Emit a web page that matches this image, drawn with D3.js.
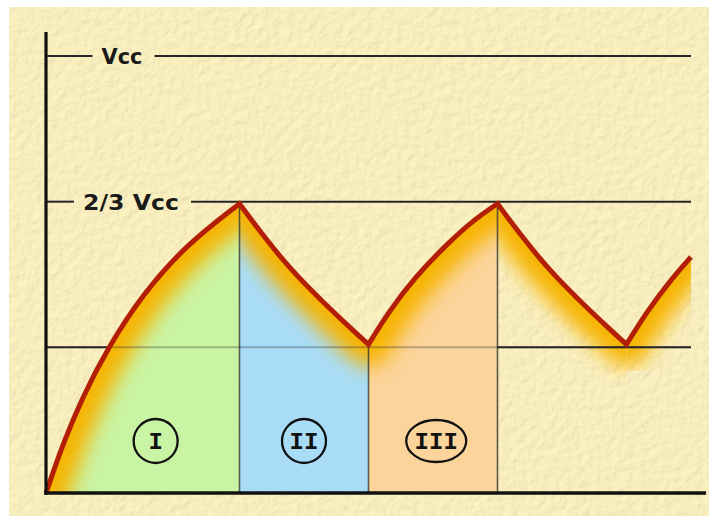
<!DOCTYPE html>
<html>
<head>
<meta charset="utf-8">
<script src="https://cdn.jsdelivr.net/npm/d3@7"></script>
<style>
  html, body { margin: 0; padding: 0; background: #ffffff; }
  svg { display: block; }
</style>
</head>
<body>
<svg id="chart" width="709" height="516"></svg>
<script>
// Capacitor voltage of a 555 astable timer.
// Time in arbitrary units, voltage as a fraction of Vcc.
const curveT = [0, 0.14, 0.26, 0.55, 0.97, 1.5, 2.18, 3.0,
                3.34, 3.76, 4.25, 4.76, 5.0,
                5.31, 5.72, 6.24, 6.65, 7.0,
                7.34, 7.76, 8.25, 8.76, 9.0,
                9.31, 9.72, 10.0];
const curveV = [0, 0.06, 0.11, 0.215, 0.335, 0.455, 0.569, 0.662,
                0.594, 0.517, 0.443, 0.372, 0.34,
                0.414, 0.494, 0.573, 0.627, 0.662,
                0.594, 0.517, 0.443, 0.372, 0.34,
                0.414, 0.494, 0.54];

// Charge / discharge phase boundaries (corners of the waveform)
const phaseBounds = [0, 3, 5, 7, 9, 10];
const phaseNames = ['I', 'II', 'III'];
const phaseColors = ['#c9f4a4', '#a9ddf7', '#fbd49c'];

// Threshold levels
const levelValues = [1, 2 / 3, 1 / 3];
const levelLabels = ['Vcc', '2/3 Vcc', ''];

const W = 709, H = 516;
const svg = d3.select('#chart');
const defs = svg.append('defs');

const x = d3.scaleLinear().domain([0, 10]).range([46, 691]);
const y = d3.scaleLinear().domain([0, 1]).range([493, 56]);

const points = curveT.map((t, i) => ({ t, v: curveV[i] }));

// ---- paper background ----
const paper = defs.append('filter').attr('id', 'paper')
  .attr('x', 0).attr('y', 0).attr('width', '100%').attr('height', '100%');
paper.append('feTurbulence').attr('type', 'fractalNoise')
  .attr('baseFrequency', 0.13).attr('numOctaves', 3).attr('seed', 7).attr('result', 'noise');
const light = paper.append('feDiffuseLighting').attr('in', 'noise')
  .attr('lighting-color', '#f9efbf').attr('surfaceScale', 0.8)
  .attr('diffuseConstant', 1.1).attr('result', 'lit');
light.append('feDistantLight').attr('azimuth', 225).attr('elevation', 64);

svg.append('rect').attr('x', 9).attr('y', 7).attr('width', W - 9).attr('height', H - 7)
  .attr('fill', '#f8edbc');
svg.append('rect').attr('x', 9).attr('y', 7).attr('width', W - 9).attr('height', H - 7)
  .attr('filter', 'url(#paper)').attr('opacity', 0.8);

// ---- glow filter ----
defs.append('filter').attr('id', 'glow')
  .attr('x', '-30%').attr('y', '-30%').attr('width', '160%').attr('height', '160%')
  .append('feGaussianBlur').attr('stdDeviation', 10);

// Split the waveform into its phases
const phases = d3.range(phaseBounds.length - 1).map(i => {
  const a = phaseBounds[i], b = phaseBounds[i + 1];
  return { a, b, pts: points.filter(p => p.t >= a - 1e-9 && p.t <= b + 1e-9) };
});

// Clamped B-spline: passes through each phase's end points, smooth in between
const curve = d3.curveBasis;
const line = d3.line().x(d => x(d.t)).y(d => y(d.v)).curve(curve);
const area = d3.area().x(d => x(d.t)).y0(y(0)).y1(d => y(d.v)).curve(curve);

// ---- phase fills with orange glow under the curve ----
const fills = svg.append('g');
phases.forEach((ph, i) => {
  const clipId = 'clip' + i;
  defs.append('clipPath').attr('id', clipId).append('path').attr('d', area(ph.pts));
  const g = fills.append('g').attr('clip-path', `url(#${clipId})`);
  if (i < phaseColors.length) {
    g.append('path').attr('d', area(ph.pts)).attr('fill', phaseColors[i]);
  }
  g.append('path').attr('d', line(ph.pts))
    .attr('fill', 'none').attr('stroke', '#f6b400')
    .attr('stroke-width', 44).attr('stroke-linecap', 'round')
    .attr('filter', 'url(#glow)');
});

// ---- phase dividers ----
const dividers = svg.append('g');
phaseBounds.slice(1, 4).forEach(t => {
  const p = points.find(q => Math.abs(q.t - t) < 1e-9);
  dividers.append('line')
    .attr('x1', x(t)).attr('x2', x(t))
    .attr('y1', y(p.v)).attr('y2', y(0))
    .attr('stroke', '#2a2a2a').attr('stroke-opacity', 0.75).attr('stroke-width', 1.6);
});

// ---- threshold levels ----
const levels = svg.append('g');
const labelCx = [122, 131];
const labelW = [41, 96];
levelValues.forEach((v, i) => {
  const yy = y(v);
  if (levelLabels[i]) {
    levels.append('text')
      .attr('x', labelCx[i]).attr('y', yy + 8)
      .attr('text-anchor', 'middle')
      .attr('font-family', '"DejaVu Sans", Verdana, sans-serif')
      .attr('font-weight', 'bold').attr('font-size', 22)
      .attr('textLength', labelW[i]).attr('lengthAdjust', 'spacingAndGlyphs')
      .attr('fill', '#1a1a1a')
      .text(levelLabels[i]);
    const w = labelW[i];
    levels.append('line').attr('x1', x(0)).attr('x2', labelCx[i] - w / 2 - 9)
      .attr('y1', yy).attr('y2', yy).attr('stroke', '#262626').attr('stroke-width', 2);
    levels.append('line').attr('x1', labelCx[i] + w / 2 + 12).attr('x2', x(10))
      .attr('y1', yy).attr('y2', yy).attr('stroke', '#262626').attr('stroke-width', 2);
  } else {
    // Lower threshold: solid over the paper, faint where it crosses the fills
    levels.append('line').attr('x1', x(0)).attr('x2', x(10))
      .attr('y1', yy).attr('y2', yy)
      .attr('stroke', '#262626').attr('stroke-opacity', 0.3).attr('stroke-width', 2);
    const paperOnly = defs.append('clipPath').attr('id', 'abovePaper');
    paperOnly.append('rect').attr('x', x(0)).attr('y', 0)
      .attr('width', x(0.97) - x(0)).attr('height', H);
    paperOnly.append('rect').attr('x', x(7)).attr('y', 0)
      .attr('width', x(10) - x(7)).attr('height', H);
    levels.append('line').attr('x1', x(0)).attr('x2', x(10))
      .attr('y1', yy).attr('y2', yy)
      .attr('clip-path', 'url(#abovePaper)')
      .attr('stroke', '#262626').attr('stroke-width', 2);
  }
});

// ---- waveform: phases joined into one path so the corners are mitred ----
const wavePath = phases.map((ph, i) => {
  const d = line(ph.pts);
  return i === 0 ? d : 'L' + d.slice(1);
}).join('');
svg.append('path')
  .attr('d', wavePath)
  .attr('fill', 'none').attr('stroke', '#b21e06').attr('stroke-width', 5)
  .attr('stroke-linejoin', 'miter').attr('stroke-miterlimit', 10);

// ---- axes ----
svg.append('line').attr('x1', x(0)).attr('x2', x(0))
  .attr('y1', 32).attr('y2', y(0) + 2)
  .attr('stroke', '#111').attr('stroke-width', 3.2);
svg.append('line').attr('x1', x(0) - 1.5).attr('x2', 706)
  .attr('y1', y(0)).attr('y2', y(0))
  .attr('stroke', '#111').attr('stroke-width', 3.6);

// ---- phase labels ----
const labelT = [1.7, 4.0, 6.05];
const labelV = 0.119;
const tags = svg.append('g');
phaseNames.forEach((name, i) => {
  const cx = x(labelT[i]), cy = y(labelV);
  tags.append('ellipse').attr('cx', cx).attr('cy', cy)
    .attr('rx', name.length > 2 ? 30 : 22).attr('ry', name.length > 2 ? 21 : 22)
    .attr('fill', 'none').attr('stroke', '#111').attr('stroke-width', 2.3);
  tags.append('text').attr('x', cx).attr('y', cy + 8)
    .attr('text-anchor', 'middle')
    .attr('font-family', '"Liberation Mono", "Courier New", monospace')
    .attr('font-weight', 'bold').attr('font-size', 24)
    .attr('fill', '#111')
    .text(name);
});
</script>
</body>
</html>
